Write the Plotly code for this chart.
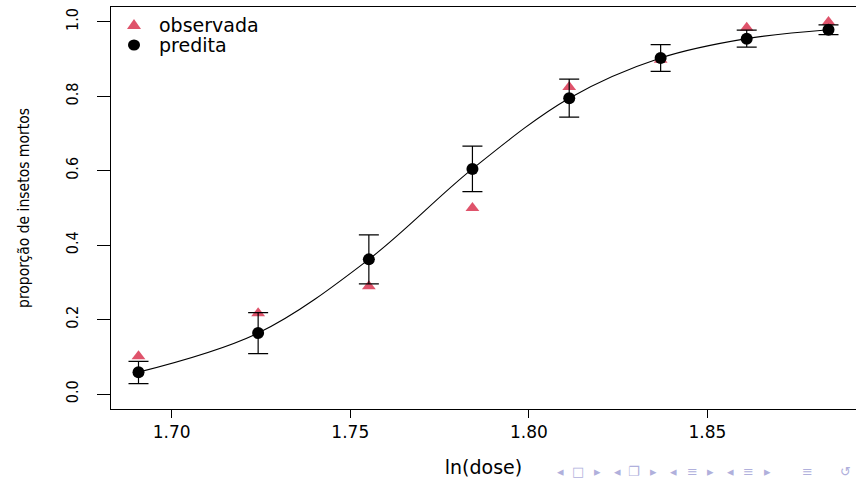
import plotly.graph_objects as go

# ---- data (beetle mortality, logit fit) ----
ln_dose = [1.6907, 1.7242, 1.7552, 1.7842, 1.8113, 1.8369, 1.8610, 1.8839]
observada = [0.102, 0.217, 0.290, 0.500, 0.825, 0.898, 0.984, 1.000]
predita = [0.059, 0.164, 0.362, 0.605, 0.795, 0.903, 0.955, 0.979]
ic_inf = [0.028, 0.109, 0.296, 0.544, 0.744, 0.867, 0.932, 0.966]
ic_sup = [0.088, 0.219, 0.428, 0.666, 0.846, 0.939, 0.978, 0.992]
x_ticks = [1.70, 1.75, 1.80, 1.85]
x_ticklabels = ["1.70", "1.75", "1.80", "1.85"]
y_ticks = [0.0, 0.2, 0.4, 0.6, 0.8, 1.0]
y_ticklabels = ["0.0", "0.2", "0.4", "0.6", "0.8", "1.0"]
legend_labels = ["observada", "predita"]
nav_symbols = ["◂", "□", "▸", "◂", "❐", "▸", "◂", "≡", "▸", "◂", "≡", "▸", "≡", "↺"]

RED = "#DF536B"
WIDE = "DejaVu Sans, Arial, sans-serif"
NARROW = "DejaVu Sans Condensed, Liberation Sans Narrow, Arial Narrow, sans-serif"

# plot-area geometry (pixels) used to place decorations
W, H = 856, 478
L, R, T, B = 111, 0, 7, 69
PW, PH = W - L - R, H - T - B


def px_x(px):
    return (px - L) / PW


def px_y(py):
    return (H - B - py) / PH


err_plus = [u - p for u, p in zip(ic_sup, predita)]
err_minus = [p - l for p, l in zip(predita, ic_inf)]

fig = go.Figure()

# fitted curve (smoothed through predicted values)
fig.add_trace(go.Scatter(
    x=ln_dose, y=predita, mode="lines",
    line=dict(color="black", width=1.1, shape="spline", smoothing=1.0),
    showlegend=False, hoverinfo="skip",
))

# observed
fig.add_trace(go.Scatter(
    x=ln_dose, y=observada, mode="markers", name=legend_labels[0],
    marker=dict(symbol="triangle-up", size=12, color=RED, line=dict(width=0)),
    showlegend=False,
))

# predicted with CI
fig.add_trace(go.Scatter(
    x=ln_dose, y=predita, mode="markers", name=legend_labels[1],
    marker=dict(symbol="circle", size=12, color="black", line=dict(width=0)),
    error_y=dict(type="data", array=err_plus, arrayminus=err_minus,
                 color="black", thickness=1.2, width=10),
    showlegend=False,
))

# ---- manual legend (R style) ----
leg_sym_x, leg_txt_x = 134, 157
leg_rows = [25, 45]
shapes = [
    dict(type="path", xref="paper", yref="paper",
         xsizemode="pixel", ysizemode="pixel",
         xanchor=px_x(leg_sym_x), yanchor=px_y(leg_rows[0]),
         path="M -7,-4 L 7,-4 L 0,6 Z", fillcolor=RED, line=dict(width=0)),
    dict(type="circle", xref="paper", yref="paper",
         xsizemode="pixel", ysizemode="pixel",
         xanchor=px_x(leg_sym_x), yanchor=px_y(leg_rows[1]),
         x0=-6, x1=6, y0=-5.5, y1=5.5, fillcolor="black", line=dict(width=0)),
]
annotations = []
for lab, row in zip(legend_labels, leg_rows):
    annotations.append(dict(
        text=lab, xref="paper", yref="paper", x=px_x(leg_txt_x), y=px_y(row),
        xanchor="left", yanchor="middle", showarrow=False,
        font=dict(family=WIDE, size=19, color="black"),
    ))

# ---- beamer navigation symbols ----
nav_px = [560, 578, 597, 617, 634, 653, 673, 692, 710, 730, 748, 767, 807, 845]
for s, xp in zip(nav_symbols, nav_px):
    annotations.append(dict(
        text=s, xref="paper", yref="paper", x=px_x(xp), y=px_y(471),
        xanchor="center", yanchor="middle", showarrow=False,
        font=dict(family=WIDE, size=13, color="#b0b0dc"),
    ))

fig.update_layout(
    width=W, height=H,
    margin=dict(l=L, r=R, t=T, b=B),
    paper_bgcolor="white", plot_bgcolor="white",
    font=dict(family=WIDE, color="black"),
    showlegend=False,
    xaxis=dict(
        range=[1.6830, 1.8916], tickvals=x_ticks, ticktext=x_ticklabels,
        ticks="outside", ticklen=8, tickwidth=1, tickcolor="black",
        showline=True, linecolor="black", linewidth=1, mirror=True,
        showgrid=False, zeroline=False,
        tickfont=dict(family=WIDE, size=17),
        title=dict(text="ln(dose)", font=dict(family=WIDE, size=19), standoff=19),
    ),
    yaxis=dict(
        range=[-0.04, 1.04], tickvals=y_ticks, ticktext=y_ticklabels,
        tickangle=-90, ticklabelstandoff=13,
        ticks="outside", ticklen=13, tickwidth=1, tickcolor="black",
        showline=True, linecolor="black", linewidth=1, mirror=False,
        showgrid=False, zeroline=False,
        tickfont=dict(family=NARROW, size=16),
        title=dict(text="proporção de insetos mortos",
                   font=dict(family=NARROW, size=15.5), standoff=29),
    ),
    shapes=shapes,
    annotations=annotations,
)

fig.write_html("out.html")
